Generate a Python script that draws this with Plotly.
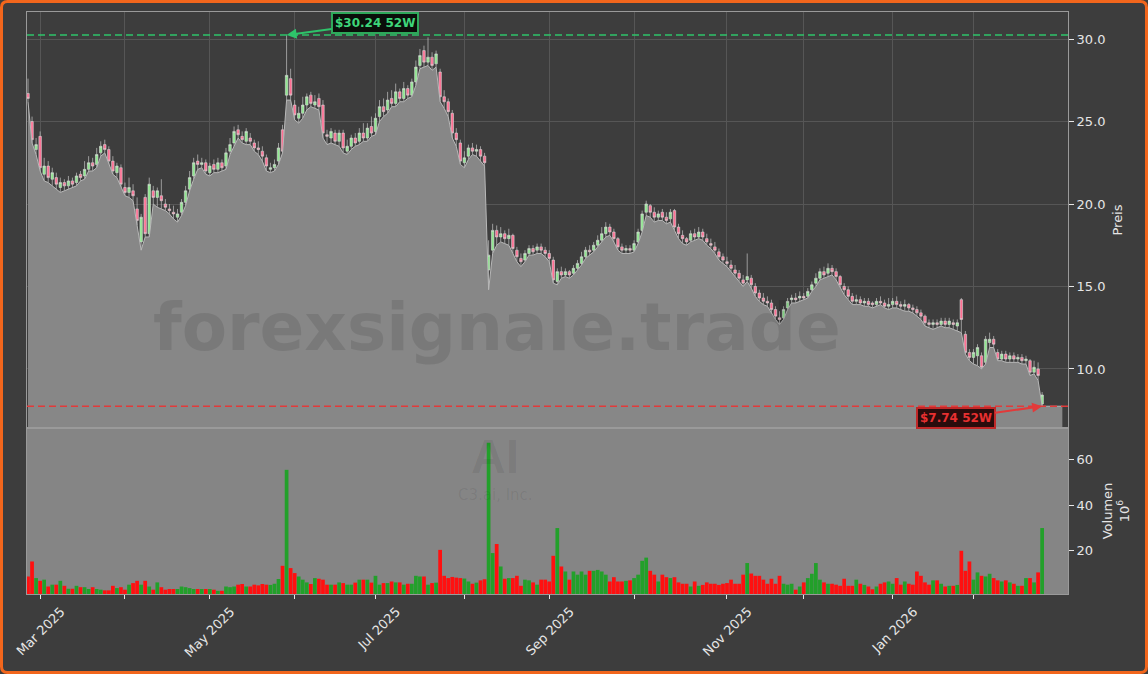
import pandas as pd
import plotly.graph_objects as go

# ---------------- data ----------------
start_date, end_date = "2025-02-26", "2026-02-26"
holidays = ["2025-04-18", "2025-05-26", "2025-06-19", "2025-07-04", "2025-09-01",
            "2025-11-27", "2025-12-25", "2026-01-01", "2026-01-19", "2026-02-16"]
dates = [d.strftime("%Y-%m-%d") for d in pd.bdate_range(start_date, end_date)
         if d.strftime("%Y-%m-%d") not in holidays]
# area fill continues a few sessions past the last candle
ext_dates = [d.strftime("%Y-%m-%d") for d in pd.bdate_range("2026-02-27", periods=5)]

opens = [
    26.7, 25.0, 23.3, 24.1, 21.8, 22.3, 21.5, 21.6, 21.0, 21.3,
    21.1, 21.4, 21.3, 21.8, 21.7, 22.1, 22.5, 22.4, 23.1, 23.6,
    23.3, 22.6, 21.9, 22.2, 21.0, 20.7, 20.8, 19.7, 17.7, 20.4,
    18.2, 20.8, 20.4, 20.5, 20.0, 19.7, 19.5, 19.2, 19.5, 20.1,
    20.9, 21.7, 22.6, 22.4, 22.5, 21.9, 22.4, 22.1, 22.5, 22.3,
    23.2, 23.7, 24.5, 24.1, 23.8, 24.0, 23.7, 23.4, 23.2, 22.8,
    22.1, 22.2, 22.6, 24.5, 26.6, 27.6, 26.0, 25.2, 25.5, 26.0,
    26.6, 26.0, 26.4, 26.0, 24.2, 24.0, 24.3, 23.8, 24.3, 23.2,
    23.5, 24.0, 23.8, 24.3, 24.0, 24.7, 24.4, 25.3, 25.9, 25.7,
    26.4, 26.1, 26.8, 26.4, 27.0, 26.6, 27.4, 28.4, 29.3, 28.6,
    28.9, 28.5, 28.0, 26.5, 26.2, 25.5, 24.3, 23.7, 22.5, 22.9,
    23.4, 23.2, 23.3, 22.9, 16.0, 17.2, 18.4, 18.0, 18.2, 17.9,
    18.1, 17.2, 16.7, 16.6, 17.0, 17.3, 17.2, 17.4, 17.2, 17.0,
    16.6, 15.3, 15.9, 15.7, 15.9, 15.8, 16.1, 16.4, 16.8, 17.2,
    17.2, 17.5, 17.8, 18.2, 18.6, 18.3, 17.9, 17.4, 17.2, 17.3,
    17.2, 17.7, 18.4, 19.5, 19.9, 19.5, 19.2, 19.5, 19.2, 19.1,
    19.6, 18.6, 18.1, 17.9, 17.8, 18.2, 18.0, 18.3, 17.9, 17.6,
    17.4, 17.1, 16.8, 16.5, 16.3, 16.0, 15.8, 15.4, 15.4, 15.5,
    15.0, 14.6, 14.3, 14.1, 14.0, 13.6, 13.1, 13.1, 13.7, 14.2,
    14.3, 14.3, 14.4, 14.4, 14.8, 15.2, 15.5, 15.9, 15.8, 16.1,
    15.9, 15.6, 15.0, 14.8, 14.4, 14.1, 14.2, 14.0, 14.1, 14.0,
    13.9, 14.1, 14.0, 13.8, 13.9, 14.1, 13.9, 13.8, 13.9, 13.7,
    13.6, 13.4, 13.2, 12.8, 12.7, 12.8, 12.7, 12.9, 12.7, 12.8,
    12.6, 14.2, 12.1, 11.0, 10.7, 10.8, 10.8, 10.4, 11.6, 11.8,
    11.0, 10.6, 10.9, 10.6, 10.8, 10.6, 10.7, 10.5, 10.5, 9.8,
    10.0, 7.88,
]
closes = [
    26.4, 23.9, 23.6, 22.2, 22.3, 21.6, 21.9, 21.2, 21.3, 21.1,
    21.4, 21.2, 21.7, 21.6, 22.1, 22.5, 22.3, 23.0, 23.5, 23.3,
    22.6, 22.0, 22.3, 21.2, 20.7, 21.0, 20.5, 19.0, 19.2, 18.2,
    21.2, 20.4, 20.8, 20.2, 19.8, 19.6, 19.4, 19.4, 20.1, 20.8,
    21.6, 22.5, 22.4, 22.5, 22.0, 22.3, 22.1, 22.5, 22.2, 23.1,
    23.6, 24.4, 24.2, 23.9, 24.4, 23.8, 23.4, 23.3, 22.9, 22.3,
    22.2, 22.4, 23.4, 23.2, 27.8, 26.6, 25.4, 25.5, 26.0, 26.5,
    26.1, 26.2, 25.9, 24.3, 24.1, 24.4, 23.8, 24.3, 23.4, 23.5,
    24.0, 23.7, 24.3, 24.0, 24.6, 24.3, 25.2, 25.9, 25.6, 26.3,
    26.1, 26.8, 26.4, 27.0, 26.6, 27.4, 28.3, 29.0, 28.6, 28.9,
    28.4, 29.1, 26.5, 26.2, 25.6, 24.3, 23.9, 22.6, 22.8, 23.4,
    23.2, 23.3, 22.9, 22.5, 16.9, 18.4, 18.0, 18.2, 17.9, 18.1,
    17.3, 16.8, 16.5, 17.0, 17.3, 17.1, 17.4, 17.2, 17.0, 16.7,
    15.4, 15.9, 15.7, 15.9, 15.7, 16.1, 16.4, 16.8, 17.2, 17.1,
    17.5, 17.8, 18.2, 18.6, 18.3, 17.9, 17.4, 17.2, 17.3, 17.2,
    17.6, 18.3, 19.4, 20.0, 19.5, 19.2, 19.4, 19.2, 19.0, 19.5,
    18.6, 18.2, 17.9, 17.7, 18.2, 18.0, 18.3, 18.0, 17.7, 17.5,
    17.2, 16.8, 16.6, 16.4, 16.1, 15.8, 15.5, 15.2, 15.6, 15.1,
    14.6, 14.3, 14.1, 14.0, 13.6, 13.2, 13.0, 13.6, 14.1, 14.3,
    14.2, 14.4, 14.3, 14.7, 15.1, 15.5, 15.9, 15.7, 16.1, 15.9,
    15.6, 15.1, 14.8, 14.4, 14.1, 14.2, 14.0, 14.1, 13.9, 13.9,
    14.1, 14.0, 13.8, 13.9, 14.1, 13.9, 13.8, 13.9, 13.7, 13.6,
    13.4, 13.2, 12.8, 12.7, 12.8, 12.7, 12.9, 12.7, 12.9, 12.7,
    12.8, 13.0, 11.0, 10.7, 11.0, 11.3, 10.1, 11.8, 11.8, 11.5,
    10.6, 10.9, 10.6, 10.8, 10.6, 10.7, 10.5, 10.6, 9.8, 10.1,
    9.6, 8.42,
]
highs = [
    27.6, 25.3, 24.0, 24.4, 22.8, 22.6, 22.2, 21.9, 21.6, 21.5,
    21.7, 21.6, 21.9, 22.0, 22.6, 22.9, 22.8, 23.4, 23.8, 23.9,
    23.5, 22.9, 22.5, 22.4, 21.3, 21.6, 21.2, 20.4, 19.4, 20.6,
    21.6, 21.1, 21.0, 21.5, 20.3, 20.0, 19.9, 19.7, 20.3, 21.1,
    22.0, 22.8, 23.0, 22.8, 22.7, 22.5, 22.7, 22.8, 22.7, 23.4,
    24.0, 24.7, 24.8, 24.4, 24.6, 24.3, 23.9, 23.8, 23.5, 23.0,
    22.5, 22.7, 23.7, 24.8, 30.24, 28.2, 26.3, 25.9, 26.5, 26.7,
    26.8, 26.6, 26.7, 26.3, 24.5, 24.6, 24.5, 24.5, 24.5, 23.9,
    24.2, 24.3, 24.6, 24.9, 24.9, 25.3, 25.5, 26.3, 26.4, 26.8,
    26.9, 27.3, 27.0, 27.4, 27.2, 27.6, 28.7, 29.4, 29.6, 30.1,
    29.2, 29.3, 28.2, 26.9, 26.4, 25.7, 24.6, 23.9, 23.2, 23.6,
    23.7, 23.6, 23.5, 23.1, 17.8, 18.8, 18.7, 18.6, 18.4, 18.5,
    18.2, 17.4, 17.0, 17.2, 17.5, 17.5, 17.6, 17.6, 17.4, 17.2,
    16.8, 16.1, 16.2, 16.1, 16.0, 16.3, 16.6, 17.1, 17.4, 17.5,
    17.7, 18.1, 18.6, 18.9, 18.8, 18.5, 18.0, 17.6, 17.5, 17.5,
    17.8, 18.5, 19.6, 20.2, 20.0, 19.8, 19.6, 19.7, 19.5, 19.7,
    19.7, 18.8, 18.4, 18.0, 18.4, 18.5, 18.6, 18.5, 18.2, 17.9,
    17.7, 17.3, 17.0, 16.8, 16.6, 16.3, 16.0, 15.7, 17.0, 15.7,
    15.2, 14.8, 14.6, 14.4, 14.2, 13.8, 13.5, 13.8, 14.3, 14.5,
    14.6, 14.7, 14.6, 14.9, 15.3, 15.8, 16.1, 16.2, 16.4, 16.3,
    16.1, 15.7, 15.2, 15.0, 14.6, 14.5, 14.4, 14.3, 14.3, 14.1,
    14.3, 14.4, 14.2, 14.3, 14.3, 14.4, 14.1, 14.2, 14.0, 13.9,
    13.8, 13.6, 13.3, 13.0, 13.0, 13.0, 13.1, 13.1, 13.1, 13.0,
    13.0, 14.3, 12.3, 11.2, 11.2, 11.5, 11.0, 12.0, 12.2, 12.0,
    11.2, 11.1, 11.1, 11.0, 11.0, 10.9, 10.9, 10.8, 10.6, 10.5,
    10.4, 8.6,
]
lows = [
    26.2, 23.7, 23.0, 22.0, 21.4, 21.3, 21.1, 20.9, 20.7, 20.8,
    20.9, 21.0, 21.1, 21.4, 21.5, 22.0, 22.0, 22.2, 22.9, 23.1,
    22.4, 21.8, 21.6, 21.0, 20.5, 20.4, 20.2, 18.7, 17.2, 18.0,
    18.0, 20.0, 19.8, 19.7, 19.6, 19.4, 19.1, 18.9, 19.3, 19.9,
    20.8, 21.5, 22.1, 22.2, 21.8, 21.7, 21.9, 21.9, 22.0, 22.1,
    23.0, 23.5, 24.0, 23.7, 23.6, 23.6, 23.2, 23.0, 22.6, 22.0,
    21.9, 22.0, 22.4, 23.1, 26.3, 26.3, 25.1, 24.9, 25.2, 25.7,
    25.9, 25.8, 25.7, 24.0, 23.6, 23.7, 23.6, 23.5, 23.1, 23.0,
    23.3, 23.5, 23.6, 23.8, 23.8, 24.1, 24.2, 25.0, 25.3, 25.5,
    25.9, 25.9, 26.2, 26.2, 26.4, 26.5, 27.2, 28.2, 28.3, 28.4,
    28.1, 28.3, 26.2, 25.8, 25.3, 24.0, 23.5, 22.4, 22.2, 22.7,
    23.0, 22.9, 22.6, 22.3, 14.8, 17.0, 17.5, 17.7, 17.6, 17.5,
    17.0, 16.5, 16.2, 16.5, 16.9, 16.9, 17.0, 17.0, 16.8, 16.5,
    15.2, 15.1, 15.5, 15.6, 15.5, 15.7, 16.0, 16.3, 16.7, 16.9,
    17.1, 17.4, 17.7, 18.0, 18.1, 17.7, 17.2, 17.0, 17.0, 17.0,
    17.1, 17.6, 18.3, 19.3, 19.2, 18.9, 19.0, 19.0, 18.8, 18.9,
    18.4, 17.9, 17.6, 17.5, 17.7, 17.8, 17.9, 17.8, 17.5, 17.3,
    17.0, 16.6, 16.4, 16.2, 15.9, 15.6, 15.3, 15.0, 15.3, 14.9,
    14.4, 14.1, 13.9, 13.8, 13.4, 13.0, 12.7, 13.0, 13.6, 14.0,
    14.0, 14.1, 14.2, 14.3, 14.7, 15.0, 15.4, 15.5, 15.6, 15.7,
    15.4, 14.9, 14.5, 14.2, 13.9, 13.9, 13.9, 13.8, 13.8, 13.7,
    13.8, 13.9, 13.7, 13.6, 13.7, 13.7, 13.6, 13.5, 13.5, 13.4,
    13.2, 13.0, 12.6, 12.5, 12.4, 12.5, 12.6, 12.5, 12.5, 12.4,
    12.3, 12.2, 10.9, 10.5, 10.3, 10.2, 10.0, 10.3, 11.3, 11.3,
    10.5, 10.5, 10.4, 10.4, 10.4, 10.4, 10.3, 10.3, 9.6, 9.7,
    9.3, 7.74,
]
volumes_m = [
    8.7, 15.3, 8.0, 6.8, 7.3, 4.3, 5.1, 5.1, 6.8, 4.6,
    3.3, 3.3, 4.6, 4.0, 4.0, 3.2, 4.0, 3.2, 2.9, 2.6,
    2.6, 4.6, 3.6, 4.0, 2.9, 5.1, 5.8, 6.8, 5.1, 6.8,
    4.3, 2.9, 6.1, 4.0, 2.9, 3.2, 3.2, 3.2, 4.3, 4.0,
    3.6, 3.2, 3.2, 3.2, 3.2, 3.2, 2.9, 2.4, 2.4, 4.3,
    4.0, 4.3, 5.1, 5.4, 4.3, 4.3, 5.1, 4.8, 5.4, 5.1,
    5.0, 5.5, 7.6, 13.4, 55.6, 12.4, 10.2, 8.7, 7.3, 6.1,
    5.4, 8.0, 7.7, 7.3, 5.1, 5.1, 5.1, 6.1, 5.8, 5.1,
    5.1, 6.0, 7.3, 7.3, 7.3, 6.0, 9.0, 5.1, 5.8, 5.8,
    6.5, 6.1, 6.1, 5.1, 5.5, 5.5, 9.0, 8.7, 8.7, 5.1,
    5.8, 6.0, 20.4, 9.0, 8.0, 8.5, 8.2, 8.0, 7.8, 6.5,
    5.5, 6.0, 7.0, 7.5, 67.5, 19.0, 23.0, 13.1, 7.7, 8.0,
    8.0, 9.0, 4.6, 7.3, 7.0, 6.1, 5.1, 7.3, 7.3, 6.5,
    17.8, 30.0, 13.1, 10.9, 7.3, 10.9, 9.5, 10.9, 9.5, 11.2,
    11.2, 11.6, 10.9, 9.5, 6.5, 8.4, 6.5, 6.5, 6.8, 7.0,
    8.0, 9.5, 15.6, 17.0, 11.2, 9.5, 6.5, 9.5, 8.4, 8.0,
    8.4, 6.1, 5.5, 5.5, 4.3, 6.5, 4.6, 5.0, 6.1, 5.5,
    5.5, 5.0, 5.5, 5.8, 7.3, 5.5, 5.5, 9.5, 14.6, 10.0,
    9.0, 9.0, 7.3, 5.5, 7.7, 5.5, 9.0, 5.5, 5.1, 5.5,
    2.9, 4.3, 6.1, 8.0, 9.9, 14.6, 7.3, 6.1, 5.5, 5.5,
    5.1, 4.6, 7.7, 4.6, 4.6, 7.3, 5.5, 5.0, 4.3, 3.1,
    4.3, 5.5, 6.1, 6.5, 5.5, 8.0, 5.1, 6.5, 5.5, 5.1,
    10.9, 9.0, 6.1, 5.1, 7.0, 7.0, 5.5, 4.3, 4.6, 4.6,
    5.0, 20.0, 11.2, 15.3, 7.3, 10.5, 9.0, 8.7, 9.9, 8.0,
    7.0, 6.5, 7.0, 6.1, 5.5, 4.6, 4.6, 8.0, 8.0, 6.1,
    10.5, 30.0,
]
for arr in (opens, closes, highs, lows, volumes_m):
    assert len(arr) == len(dates), (len(arr), len(dates))

price_ticks = [10, 15, 20, 25, 30]
volume_ticks = [20, 40, 60]
labelled_months = {3, 5, 7, 9, 11, 1}

# ---------------- derived ----------------
hi_52 = max(highs)
lo_52 = min(lows)
i_hi = highs.index(hi_52)
i_lo = lows.index(lo_52)
all_cats = dates + ext_dates

month_starts = [dates[k] for k in range(1, len(dates)) if dates[k][5:7] != dates[k - 1][5:7]]
label_vals = [d for d in month_starts if pd.Timestamp(d).month in labelled_months]
label_text = [pd.Timestamp(d).strftime("%b %Y") for d in label_vals]

vol_colors = ["#22a02a" if c >= o else "#ff1010" for o, c in zip(opens, closes)]

# ---------------- layout geometry ----------------
W, H = 1148, 674
L, R, T, B = 27, 1068, 12, 594
split = 428
vol_dom = (B - split) / (B - T)

BG = "#3d3d3d"
GRID = "#565656"
FRAME = "#9a9a9a"
TXT = "#e6e6e6"
FONT = "DejaVu Sans"
FS = 13

fig = go.Figure()

fig.add_trace(go.Scatter(
    x=all_cats, y=lows + [lows[-1]] * len(ext_dates),
    mode="lines", fill="tozeroy", fillcolor="#878787",
    line=dict(color="#b8b8b8", width=1), hoverinfo="skip",
    xaxis="x", yaxis="y", showlegend=False))

fig.add_trace(go.Candlestick(
    x=dates, open=opens, high=highs, low=lows, close=closes,
    increasing=dict(fillcolor="#8fe88f", line=dict(color="#dcdcdc", width=0.6)),
    decreasing=dict(fillcolor="#ff6f93", line=dict(color="#dcdcdc", width=0.6)),
    whiskerwidth=0, xaxis="x", yaxis="y", showlegend=False))

fig.add_trace(go.Bar(
    x=dates, y=volumes_m, marker=dict(color=vol_colors, line=dict(width=0)),
    xaxis="x2", yaxis="y2", showlegend=False))

xr = [-0.25, 257.4]
common_x = dict(type="category", categoryorder="array", categoryarray=all_cats,
                range=xr, zeroline=False)

fig.update_layout(
    width=W, height=H,
    margin=dict(l=L, r=W - R, t=T, b=H - B),
    paper_bgcolor=BG, plot_bgcolor=BG,
    font=dict(family=FONT, size=FS, color=TXT),
    showlegend=False, bargap=0.08, boxgap=0.12,
    xaxis=dict(domain=[0, 1], anchor="y", showticklabels=False, ticks="",
               tickvals=month_starts, showgrid=True, gridcolor=GRID, gridwidth=1,
               showline=True, mirror=True, linecolor=FRAME, linewidth=1,
               rangeslider=dict(visible=False), **common_x),
    yaxis=dict(domain=[vol_dom, 1], anchor="x", side="right",
               range=[6.42, 31.64], tickvals=price_ticks, tickformat=".1f",
               ticks="outside", ticklen=5, tickcolor=TXT,
               showgrid=True, gridcolor=GRID, gridwidth=1,
               showline=True, mirror=True, linecolor=FRAME, zeroline=False,
               title=dict(text="Preis", standoff=8, font=dict(size=FS, color=TXT))),
    xaxis2=dict(domain=[0, 1], anchor="y2", tickvals=label_vals, ticktext=label_text,
                tickangle=-45, ticks="outside", ticklen=4, tickcolor=TXT, showgrid=False,
                showline=True, mirror=True, linecolor=FRAME, linewidth=1,
                ticklabelshift=21, **common_x),
    # unlabelled month ticks
    xaxis3=dict(domain=[0, 1], anchor="y2", overlaying="x2", tickvals=month_starts,
                showticklabels=False, ticks="outside", ticklen=4, tickcolor=TXT,
                showgrid=False, showline=False, **common_x),
    yaxis2=dict(domain=[0, vol_dom], anchor="x2", side="right",
                range=[1.0, 74.0], tickvals=volume_ticks,
                ticks="outside", ticklen=5, tickcolor=TXT, showgrid=False,
                showline=True, mirror=True, linecolor=FRAME, zeroline=False,
                title=dict(text="Volumen<br>10<sup>6</sup>", standoff=10,
                           font=dict(size=FS, color=TXT))),
)

# invisible trace so the overlay tick axis is drawn
fig.add_trace(go.Scatter(x=[dates[0]], y=[None], xaxis="x3", yaxis="y2",
                         mode="markers", hoverinfo="skip", showlegend=False))

# volume panel background
fig.add_shape(type="rect", xref="x2 domain", yref="y2 domain", x0=0, x1=1, y0=0, y1=1,
              fillcolor="#858585", line=dict(width=0), layer="below")

# 52-week lines
fig.add_shape(type="line", xref="x domain", yref="y", x0=0, x1=1, y0=hi_52, y1=hi_52,
              line=dict(color="#2ec46a", width=1.5, dash="7px,4px"))
fig.add_shape(type="line", xref="x domain", yref="y", x0=0, x1=1, y0=lo_52, y1=lo_52,
              line=dict(color="#e23a3a", width=1.5, dash="7px,4px"))

fig.add_annotation(x=dates[i_hi], y=hi_52, xref="x", yref="y",
                   text=f"<b>${hi_52:.2f} 52W</b>", showarrow=True,
                   ax=88, ay=-12, arrowhead=2, arrowsize=1, arrowwidth=2,
                   arrowcolor="#2ec46a", font=dict(size=12, color="#3ed67a", family=FONT),
                   bgcolor="#0a0f0a", bordercolor="#2ea85a", borderwidth=2, borderpad=2)
fig.add_annotation(x=dates[i_lo], y=lo_52, xref="x", yref="y",
                   text=f"<b>${lo_52:.2f} 52W</b>", showarrow=True,
                   ax=-86, ay=12, arrowhead=2, arrowsize=1, arrowwidth=2,
                   arrowcolor="#e23a3a", font=dict(size=12, color="#e83030", family=FONT),
                   bgcolor="#2a0c0c", bordercolor="#c02828", borderwidth=2, borderpad=2)

# watermarks
fig.add_annotation(x=(497 - L) / (R - L), y=(split - 327) / (split - T),
                   xref="x domain", yref="y domain", showarrow=False,
                   text="<b>forexsignale.trade</b>",
                   font=dict(size=66, color="rgba(0,0,0,0.10)", family=FONT),
                   xanchor="center", yanchor="middle")
fig.add_annotation(x=(495 - L) / (R - L), y=(B - 456) / (B - split),
                   xref="x2 domain", yref="y2 domain", showarrow=False,
                   text="<b>AI</b>",
                   font=dict(size=48, color="rgba(0,0,0,0.07)", family="Liberation Sans"),
                   xanchor="center", yanchor="middle")
fig.add_annotation(x=(495 - L) / (R - L), y=(B - 495) / (B - split),
                   xref="x2 domain", yref="y2 domain", showarrow=False,
                   text="C3.ai, Inc.",
                   font=dict(size=15, color="rgba(0,0,0,0.07)", family=FONT),
                   xanchor="center", yanchor="middle")

# orange rounded frame around the figure
def px(v):
    return (v - L) / (R - L)

def py(v):
    return (B - v) / (B - T)

x0, x1, y0, y1, r = 1.5, W - 1.5, 1.5, H - 1.5, 6
path = (f"M {px(x0 + r)},{py(y0)} L {px(x1 - r)},{py(y0)} Q {px(x1)},{py(y0)} {px(x1)},{py(y0 + r)} "
        f"L {px(x1)},{py(y1 - r)} Q {px(x1)},{py(y1)} {px(x1 - r)},{py(y1)} "
        f"L {px(x0 + r)},{py(y1)} Q {px(x0)},{py(y1)} {px(x0)},{py(y1 - r)} "
        f"L {px(x0)},{py(y0 + r)} Q {px(x0)},{py(y0)} {px(x0 + r)},{py(y0)} Z")
fig.add_shape(type="path", xref="paper", yref="paper", path=path,
              line=dict(color="#f2661c", width=3))

fig.write_html("out.html", config={"displayModeBar": False},
               post_script="document.body.style.margin='0px';")
